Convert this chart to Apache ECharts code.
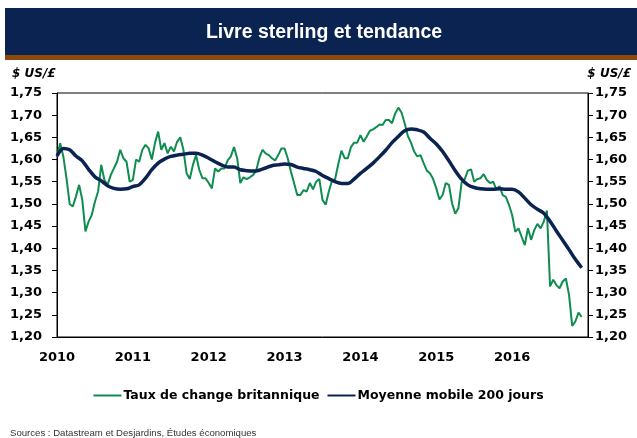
<!DOCTYPE html>
<html>
<head>
<meta charset="utf-8">
<script src="https://cdn.jsdelivr.net/npm/echarts@6/dist/echarts.min.js"></script>
<style>
  html, body { margin: 0; padding: 0; background: #fff; }
  #main { width: 637px; height: 438px; }
</style>
</head>
<body>
<div id="main"></div>
<script>
// axe horizontal (années) et vertical ($ US/£)
const yearTicks = [2010, 2011, 2012, 2013, 2014, 2015, 2016]
const yMin = 1.2
const yMax = 1.75

// Taux de change britannique, un point par demi-mois depuis janvier 2010
const fxStart = 2010
const fxStep = 1 / 24
const fxValues = [
  1.607, 1.637, 1.607, 1.558, 1.500, 1.494, 1.517, 1.543, 1.509, 1.438,
  1.460, 1.475, 1.505, 1.528, 1.588, 1.554, 1.543, 1.565, 1.580, 1.595,
  1.622, 1.603, 1.595, 1.550, 1.554, 1.600, 1.595, 1.622, 1.633, 1.625,
  1.600, 1.637, 1.663, 1.622, 1.637, 1.614, 1.629, 1.618, 1.640, 1.650,
  1.622, 1.569, 1.556, 1.588, 1.610, 1.577, 1.558, 1.558, 1.547, 1.535,
  1.580, 1.573, 1.580, 1.580, 1.598, 1.607, 1.628, 1.603, 1.547, 1.560,
  1.556, 1.560, 1.565, 1.575, 1.603, 1.622, 1.614, 1.610, 1.603, 1.598,
  1.610, 1.625, 1.625, 1.603, 1.573, 1.547, 1.520, 1.520, 1.531, 1.528,
  1.547, 1.533, 1.550, 1.556, 1.509, 1.498, 1.528, 1.552, 1.556, 1.590,
  1.620, 1.603, 1.603, 1.628, 1.638, 1.638, 1.655, 1.640, 1.652, 1.665,
  1.668, 1.673, 1.679, 1.678, 1.689, 1.689, 1.682, 1.704, 1.717, 1.706,
  1.682, 1.653, 1.638, 1.618, 1.607, 1.610, 1.592, 1.575, 1.569, 1.556,
  1.535, 1.510, 1.520, 1.547, 1.543, 1.501, 1.478, 1.490, 1.548, 1.556,
  1.575, 1.578, 1.550, 1.556, 1.558, 1.567, 1.554, 1.547, 1.550, 1.533,
  1.540, 1.520, 1.516, 1.498, 1.475, 1.437, 1.445, 1.426, 1.407, 1.445,
  1.419, 1.441, 1.455, 1.445, 1.460, 1.485, 1.314, 1.329, 1.317, 1.310,
  1.325, 1.332, 1.295, 1.225, 1.235, 1.255, 1.245
]

// Moyenne mobile 200 jours, un point par mois depuis janvier 2010
const maStart = 2010
const maStep = 1 / 12
const maValues = [
  1.608, 1.625, 1.622, 1.608, 1.597, 1.578, 1.561, 1.552, 1.541, 1.535,
  1.533, 1.534, 1.539, 1.543, 1.558, 1.577, 1.592, 1.601, 1.607, 1.610,
  1.612, 1.614, 1.614, 1.610, 1.603, 1.595, 1.588, 1.583, 1.583, 1.577,
  1.575, 1.574, 1.576, 1.581, 1.586, 1.588, 1.590, 1.589, 1.583, 1.580,
  1.577, 1.573, 1.564, 1.557, 1.550, 1.546, 1.546, 1.556, 1.569, 1.580,
  1.592, 1.606, 1.621, 1.638, 1.652, 1.665, 1.669, 1.667, 1.662, 1.648,
  1.635, 1.618, 1.597, 1.575, 1.556, 1.543, 1.537, 1.534, 1.533, 1.533,
  1.534, 1.533, 1.533, 1.527, 1.513, 1.498, 1.488, 1.479, 1.461, 1.439,
  1.418, 1.397, 1.375, 1.356
]

const green = '#0f8c50'
const navy = '#0b2350'
const font = 'Liberation Sans, Arial, sans-serif'
const wide = 'DejaVu Sans, sans-serif'

const fxData = fxValues.map((v, i) => [fxStart + i * fxStep, v])
const maData = maValues.map((v, i) => [maStart + i * maStep, v])

const chart = echarts.init(document.getElementById('main'))

const yLabel = {
  color: '#000',
  fontFamily: wide,
  fontWeight: 'bold',
  fontSize: 13,
  formatter: v => v.toFixed(2).replace('.', ',')
}

const option = {
  animation: false,
  graphic: [
    { type: 'rect', shape: { x: 5, y: 8, width: 632, height: 47 }, style: { fill: navy } },
    { type: 'rect', shape: { x: 5, y: 55, width: 632, height: 5 }, style: { fill: '#8b4a0c' } },
    {
      type: 'text', x: 324, y: 33,
      style: { text: 'Livre sterling et tendance', fill: '#fff', font: 'bold 19.5px ' + font, textAlign: 'center', textVerticalAlign: 'middle' }
    },
    {
      type: 'text', x: 12, y: 74,
      style: { text: '$ US/£', fill: '#000', font: 'italic bold 12px ' + wide, textVerticalAlign: 'middle' }
    },
    {
      type: 'text', x: 631, y: 74,
      style: { text: '$ US/£', fill: '#000', font: 'italic bold 12px ' + wide, textAlign: 'right', textVerticalAlign: 'middle' }
    },
    {
      type: 'text', x: 10, y: 433,
      style: { text: 'Sources : Datastream et Desjardins, Études économiques', fill: '#333', font: '9.6px ' + font, textVerticalAlign: 'middle' }
    }
  ],
  grid: {
    left: 57,
    right: 49,
    top: 93,
    bottom: 101,
    show: true,
    borderColor: '#000',
    borderWidth: 1
  },
  legend: {
    left: 'center',
    top: 384,
    itemWidth: 28,
    itemHeight: 2,
    itemGap: 8,
    icon: 'rect',
    textStyle: { color: '#000', fontFamily: wide, fontWeight: 'bold', fontSize: 12.5, padding: [0, 0, 0, -3] },
    data: ['Taux de change britannique', 'Moyenne mobile 200 jours']
  },
  xAxis: {
    type: 'value',
    min: yearTicks[0],
    max: 2017,
    interval: 1,
    splitLine: { show: false },
    axisTick: { show: false },
    axisLine: { lineStyle: { color: '#000' } },
    axisLabel: {
      color: '#000',
      fontFamily: wide,
      fontWeight: 'bold',
      fontSize: 13,
      margin: 14,
      formatter: v => (yearTicks.includes(v) ? String(v) : '')
    }
  },
  yAxis: [
    {
      type: 'value',
      min: yMin,
      max: yMax,
      interval: 0.05,
      position: 'left',
      splitLine: { show: false },
      axisLine: { show: true, lineStyle: { color: '#000' } },
      axisTick: { show: true, length: 5, lineStyle: { color: '#000' } },
      axisLabel: Object.assign({ margin: 15 }, yLabel)
    },
    {
      type: 'value',
      min: yMin,
      max: yMax,
      interval: 0.05,
      position: 'right',
      splitLine: { show: false },
      axisLine: { show: true, lineStyle: { color: '#000' } },
      axisTick: { show: true, length: 5, lineStyle: { color: '#000' } },
      axisLabel: Object.assign({ margin: 7 }, yLabel)
    }
  ],
  series: [
    {
      name: 'Taux de change britannique',
      type: 'line',
      data: fxData,
      showSymbol: false,
      color: green,
      lineStyle: { width: 2, color: green },
      z: 2
    },
    {
      name: 'Moyenne mobile 200 jours',
      type: 'line',
      data: maData,
      showSymbol: false,
      smooth: 0.3,
      color: navy,
      lineStyle: { width: 3.5, color: navy },
      z: 3
    }
  ]
}

chart.setOption(option)
</script>
</body>
</html>
